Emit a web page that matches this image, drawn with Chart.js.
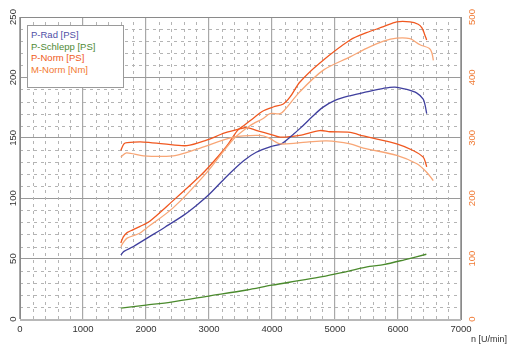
<!DOCTYPE html>
<html>
<head>
<meta charset="utf-8">
<script src="https://cdn.jsdelivr.net/npm/chart.js@4/dist/chart.umd.min.js"></script>
<style>
  html, body { margin: 0; padding: 0; background: #fff; }
  #wrap { position: relative; width: 512px; height: 349px; }
  #legend {
    position: absolute; left: 27px; top: 25px; width: 97px; height: 63px;
    background: #fff; border: 1px solid #9a9a9a;
    font: 9.5px "Liberation Sans", Arial, sans-serif; padding: 3px 0 0 3px; box-sizing: border-box;
  }
  #legend div { height: 11.6px; line-height: 11.6px; white-space: nowrap; }
</style>
</head>
<body>
<div id="wrap">
  <canvas id="c"></canvas>
  <div id="legend"></div>
</div>
<script>
// ── data ─────────────────────────────────────────────────
const rpmRad  = [1600, 1650, 1800, 2050, 2300, 2600, 2800, 3000, 3280, 3550, 3750, 4000, 4150, 4340, 4450, 4650, 4800, 5000, 5250, 5500, 5770, 5950, 6140, 6300, 6400, 6430, 6455];
const pRad    = [53, 56, 60, 68, 76, 86, 94, 103, 118, 131, 138, 143, 145, 153, 158, 168, 175, 181, 185, 188, 191, 192, 190, 187, 182, 177, 170];

const rpmSchlepp = [1600, 2000, 2400, 3000, 3600, 4000, 4400, 4800, 5200, 5550, 5770, 6100, 6450];
const pSchlepp   = [9, 11.5, 14, 19, 24, 28, 31.5, 35, 39.5, 43.5, 45, 49, 53.6];

const rpmNorm = [1600, 1640, 1700, 1800, 1900, 2060, 2430, 2850, 3000, 3280, 3450, 3550, 3700, 3850, 4020, 4180, 4290, 4440, 4760, 5240, 5500, 5770, 5980, 6190, 6320, 6380, 6420, 6455];
const pNorm   = [63, 68, 71.5, 74, 76.5, 81, 98, 118, 126, 143, 156, 160, 166, 172, 175.5, 178, 184, 196, 212, 231, 237, 242, 246, 246, 244, 241, 236, 231];

const rpmNorm2 = [1600, 1650, 1700, 1900, 2000, 2430, 2960, 3390, 3650, 3860, 3970, 4130, 4200, 4440, 4815, 5240, 5500, 5770, 5980, 6190, 6350, 6500, 6540, 6561];
const pNorm2   = [60, 64, 67, 71, 75, 92, 121, 149, 160, 166, 170, 170, 173, 188, 206, 217, 224, 230, 232.5, 232, 227, 224, 220, 214];

const rpmTorque = [1600, 1650, 1700, 1960, 2280, 2650, 2960, 3250, 3500, 3600, 3760, 4000, 4130, 4440, 4760, 4920, 5240, 5450, 5980, 6240, 6400, 6440, 6455];
const mNorm     = [279, 290, 292, 293, 290, 287, 296, 308, 315, 317, 312, 305, 301, 304, 312, 310, 309, 303, 290, 279, 268, 258, 252];

const rpmTorque2 = [1600, 1690, 1960, 2430, 2650, 2860, 3390, 3810, 3950, 4130, 4550, 4870, 5240, 5450, 5980, 6300, 6455, 6560];
const mNorm2     = [268, 275, 270, 270, 276, 283, 301, 304, 300, 290, 293, 295, 290, 283, 271, 257, 243, 229];

const xTicks      = [0, 1000, 2000, 3000, 4000, 5000, 6000, 7000];
const psTicks     = [0, 50, 100, 150, 200, 250];
const nmTicks     = [0, 100, 200, 300, 400, 500];

const legendItems = [
  { text: 'P-Rad [PS]',     color: '#4f4fa6' },
  { text: 'P-Schlepp [PS]', color: '#4e8a35' },
  { text: 'P-Norm [PS]',    color: '#f05a22' },
  { text: 'M-Norm [Nm]',    color: '#f2792f' },
];

const C_BLUE = '#3f3f9e', C_GREEN = '#4a8a2c', C_ORANGE = '#f05820', C_LIGHT = '#f8a676';
const FONT = '"Liberation Sans", Arial, sans-serif';

const pts = (xs, ys) => xs.map((x, i) => ({ x, y: ys[i] }));
const line = (label, data, color, axis = 'y') => ({
  label, data, borderColor: color, backgroundColor: color,
  borderWidth: 1.3, pointRadius: 0, tension: 0.3, yAxisID: axis,
});

// minor dashed grid every 200 rpm / 10 PS, plus frame and rotated y labels
const decor = {
  id: 'decor',
  beforeDatasetsDraw(chart) {
    const { ctx, chartArea: a, scales: { x, y } } = chart;
    ctx.save();
    ctx.strokeStyle = '#b4b4b4';
    ctx.lineWidth = 1;
    ctx.setLineDash([3, 4]);
    for (let v = 200; v < 7000; v += 200) {
      if (v % 1000 === 0) continue;
      const px = Math.round(x.getPixelForValue(v)) + 0.5;
      ctx.beginPath(); ctx.moveTo(px, a.bottom); ctx.lineTo(px, a.top); ctx.stroke();
    }
    for (let v = 10; v < 250; v += 10) {
      if (v % 50 === 0) continue;
      const py = Math.round(y.getPixelForValue(v)) + 0.5;
      ctx.beginPath(); ctx.moveTo(a.left, py); ctx.lineTo(a.right, py); ctx.stroke();
    }
    ctx.restore();
  },
  afterDraw(chart) {
    const { ctx, chartArea: a, scales: { y, y2 } } = chart;
    ctx.save();
    ctx.strokeStyle = '#8a8a8a';
    ctx.lineWidth = 1;
    ctx.strokeRect(Math.round(a.left) + 0.5, Math.round(a.top) + 0.5, Math.round(a.right - a.left), Math.round(a.bottom - a.top));
    // heavier light-grey base line
    ctx.strokeStyle = '#b8b8b8';
    ctx.lineWidth = 2;
    ctx.beginPath(); ctx.moveTo(a.left, Math.round(a.bottom) + 1); ctx.lineTo(a.right, Math.round(a.bottom) + 1); ctx.stroke();

    ctx.font = '9.5px ' + FONT;
    ctx.textAlign = 'center';
    ctx.textBaseline = 'middle';
    const vlabel = (txt, px, py) => {
      ctx.save(); ctx.translate(px, py); ctx.rotate(-Math.PI / 2); ctx.fillText(txt, 0, 0); ctx.restore();
    };
    ctx.fillStyle = '#333';
    y.ticks.forEach(t => vlabel(String(t.value), a.left - 7, y.getPixelForValue(t.value)));
    ctx.fillStyle = '#f07a34';
    y2.ticks.forEach(t => vlabel(String(t.value), a.right + 11, y2.getPixelForValue(t.value)));

    ctx.fillStyle = '#333';
    ctx.font = '9px ' + FONT;
    ctx.fillText('n [U/min]', a.right + 28, a.bottom + 21);
    ctx.restore();
  },
};

new Chart(document.getElementById('c'), {
  type: 'line',
  data: {
    datasets: [
      line('M-Norm 2 [Nm]', pts(rpmTorque2, mNorm2), C_LIGHT, 'y2'),
      line('P-Norm 2 [PS]', pts(rpmNorm2, pNorm2), C_LIGHT),
      line('P-Schlepp [PS]', pts(rpmSchlepp, pSchlepp), C_GREEN),
      line('P-Rad [PS]', pts(rpmRad, pRad), C_BLUE),
      line('M-Norm [Nm]', pts(rpmTorque, mNorm), C_ORANGE, 'y2'),
      line('P-Norm [PS]', pts(rpmNorm, pNorm), C_ORANGE),
    ],
  },
  options: {
    responsive: true,
    maintainAspectRatio: false,
    animation: false,
    devicePixelRatio: 1,
    layout: { padding: { top: 17 } },
    plugins: { legend: { display: false }, tooltip: { enabled: false } },
    scales: {
      x: {
        type: 'linear', min: 0, max: 7000,
        afterBuildTicks: s => { s.ticks = xTicks.map(v => ({ value: v })); },
        ticks: { color: '#333', font: { size: 9.5, family: FONT }, padding: 5, maxRotation: 0, callback: v => String(v) },
        grid: { color: '#a8a8a8', lineWidth: 1.2, drawTicks: false },
        border: { color: '#8a8a8a' },
        afterFit: s => { s.height = 30; },
      },
      y: {
        min: 0, max: 250,
        afterBuildTicks: s => { s.ticks = psTicks.map(v => ({ value: v })); },
        ticks: { display: false },
        grid: { color: '#9a9a9a', lineWidth: 1, drawTicks: false },
        border: { color: '#8a8a8a' },
        afterFit: s => { s.width = 20; },
      },
      y2: {
        position: 'right', min: 0, max: 500,
        afterBuildTicks: s => { s.ticks = nmTicks.map(v => ({ value: v })); },
        ticks: { display: false },
        grid: { drawOnChartArea: false, drawTicks: false },
        border: { color: '#8a8a8a' },
        afterFit: s => { s.width = 51; },
      },
    },
  },
  plugins: [decor],
});

document.getElementById('legend').innerHTML = legendItems
  .map(l => `<div style="color:${l.color}">${l.text}</div>`).join('');
</script>
</body>
</html>
